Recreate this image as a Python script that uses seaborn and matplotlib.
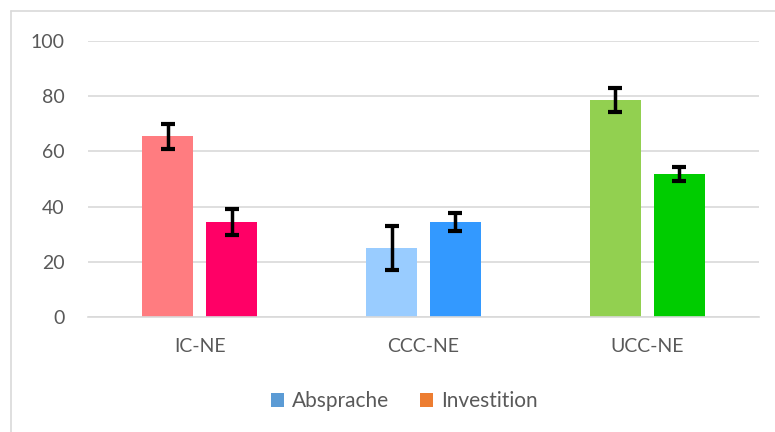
import seaborn as sns
import matplotlib.pyplot as plt
import pandas as pd
from matplotlib.patches import Patch
from matplotlib.lines import Line2D

groups = ["IC-NE", "CCC-NE", "UCC-NE"]
series = ["Absprache", "Investition"]
absprache = [65.5, 25.0, 78.5]
investition = [34.5, 34.5, 51.8]
absprache_err = [4.5, 8.0, 4.4]
investition_err = [4.7, 3.3, 2.7]
bar_colors = {
    ("IC-NE", "Absprache"): "#FF7C80",
    ("IC-NE", "Investition"): "#FF0066",
    ("CCC-NE", "Absprache"): "#99CCFF",
    ("CCC-NE", "Investition"): "#3399FF",
    ("UCC-NE", "Absprache"): "#92D050",
    ("UCC-NE", "Investition"): "#00CC00",
}
legend_colors = ["#5B9BD5", "#ED7D31"]

df = pd.DataFrame({
    "group": groups * 2,
    "series": [series[0]] * 3 + [series[1]] * 3,
    "value": absprache + investition,
    "err": absprache_err + investition_err,
})

sns.set_style("white")
plt.rcParams["font.family"] = ["Lato", "DejaVu Sans"]
text_color = "#595959"

fig = plt.figure(figsize=(7.75, 4.32), dpi=100)
ax = fig.add_axes([88 / 775, 1 - 317 / 432, (759 - 88) / 775, (317 - 41) / 432])

sns.barplot(data=df, x="group", y="value", hue="series", order=groups,
            hue_order=series, width=0.51, legend=False, ax=ax,
            palette=legend_colors, saturation=1, errorbar=None)

# recolor bars individually, set bar width/offset, add error bars
bar_w = 0.228
offsets = [-0.143, 0.143]
for i, s in enumerate(series):
    cont = ax.containers[i]
    for j, bar in enumerate(cont):
        g = groups[j]
        bar.set_facecolor(bar_colors[(g, s)])
        bar.set_edgecolor("none")
        bar.set_width(bar_w)
        bar.set_x(j + offsets[i] - bar_w / 2)
        row = df[(df.group == g) & (df.series == s)].iloc[0]
        ax.errorbar(j + offsets[i], row.value, yerr=row.err, color="black", lw=2.5,
                    capsize=5, capthick=3, zorder=5)

ax.set_xlim(-0.5, 2.5)
ax.set_ylim(0, 100)
ax.set_yticks(range(0, 101, 20))
ax.yaxis.grid(True, color="#D9D9D9", lw=1.2)
ax.set_axisbelow(True)
for sp in ["top", "right", "left"]:
    ax.spines[sp].set_visible(False)
ax.spines["bottom"].set_color("#D9D9D9")
ax.spines["bottom"].set_linewidth(1.2)
ax.tick_params(axis="y", length=0, pad=17, labelsize=14, labelcolor=text_color)
ax.tick_params(axis="x", length=0, pad=15, labelsize=14, labelcolor=text_color)
ax.set_xlabel("")
ax.set_ylabel("")

handles = [Patch(facecolor=c, edgecolor="none") for c in legend_colors]
fig.legend(handles, series, loc="center", bbox_to_anchor=(404 / 775, 1 - 401 / 432),
           ncol=2, frameon=False, fontsize=15, handlelength=0.65, handleheight=0.65,
           handletextpad=0.35, columnspacing=1.5, labelcolor=text_color)

# chart border (left and top)
fig.add_artist(Line2D([11 / 775, 11 / 775], [0, 1 - 11 / 432], color="#D9D9D9", lw=1.2))
fig.add_artist(Line2D([11 / 775, 1], [1 - 11 / 432, 1 - 11 / 432], color="#D9D9D9", lw=1.2))

plt.savefig("out.png", dpi=100)
plt.close()
